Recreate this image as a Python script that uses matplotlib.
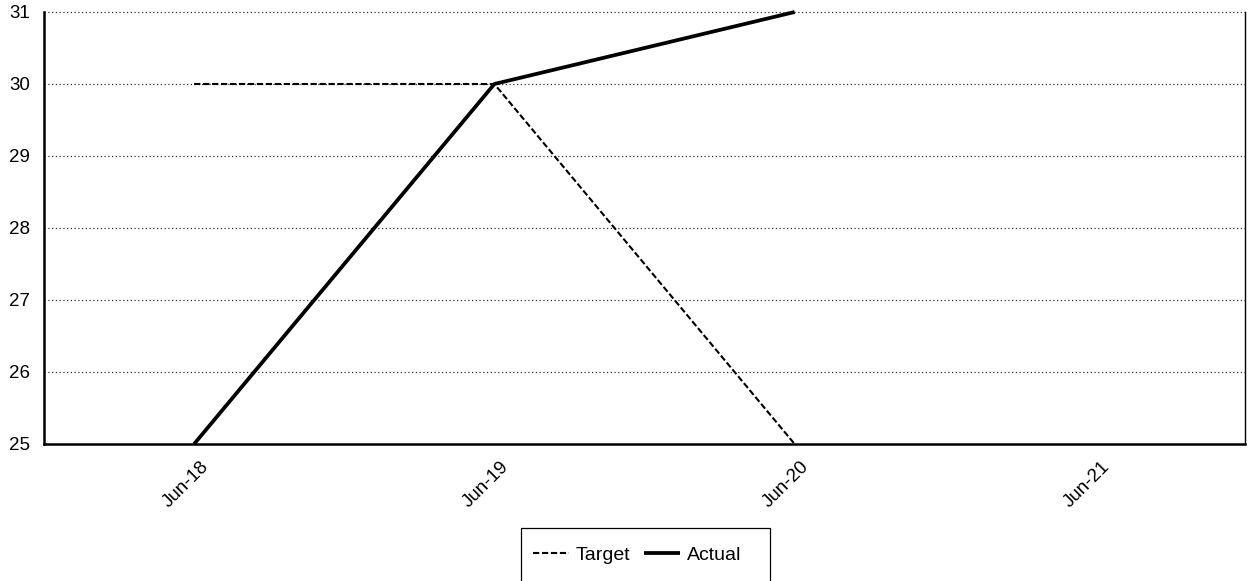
import matplotlib
matplotlib.use("Agg")
import matplotlib.pyplot as plt
from matplotlib.patches import Rectangle
from matplotlib.transforms import ScaledTranslation

plt.rcParams['font.family'] = ['Liberation Sans', 'DejaVu Sans']

categories = ["Jun-18", "Jun-19", "Jun-20", "Jun-21"]
target = [30, 30, 25]
actual = [25, 30, 31]
y_ticks = [25, 26, 27, 28, 29, 30, 31]

W, H = 1254, 581
fig = plt.figure(figsize=(W / 100, H / 100), dpi=100)
ax = fig.add_axes([44 / W, 1 - 444 / H, (1245 - 44) / W, (444 - 12) / H])

x = list(range(len(categories)))

ax.set_xlim(-0.5, len(categories) - 0.5)
ax.set_ylim(25, 31)
ax.set_yticks(y_ticks)
ax.set_xticks(x)
ax.set_xticklabels(categories, rotation=45, ha='right', va='top',
                   rotation_mode='anchor', fontsize=13.5)
ax.tick_params(axis='both', length=0, labelsize=13.5, colors='black')
ax.tick_params(axis='x', pad=10)
ax.tick_params(axis='y', pad=10)
shift = ScaledTranslation(6 / 100, 0, fig.dpi_scale_trans)
for lbl in ax.get_xticklabels():
    lbl.set_transform(lbl.get_transform() + shift)

# horizontal dotted gridlines
for v in y_ticks[1:]:
    ax.axhline(v, color='#333333', lw=0.9, ls=(0, (1, 2)), zorder=1, clip_on=False)

line_t, = ax.plot(x[:len(target)], target, color='black', lw=1.5,
                  ls=(0, (3.0, 1.3)), label='Target', zorder=3, clip_on=False)
line_a, = ax.plot(x[:len(actual)], actual, color='black', lw=2.7,
                  solid_capstyle='butt', label='Actual', zorder=4, clip_on=False)

ax.spines['top'].set_visible(False)
ax.spines['left'].set_linewidth(1.8)
ax.spines['bottom'].set_linewidth(1.8)
ax.spines['right'].set_linewidth(1.0)
for s in ax.spines.values():
    s.set_color('black')

leg = fig.legend(handles=[line_t, line_a], labels=['Target', 'Actual'],
                 loc='center left', bbox_to_anchor=(523 / W, 1 - 555 / H),
                 ncol=2, frameon=False, fontsize=14, borderpad=0,
                 handlelength=1.85, handletextpad=0.35, columnspacing=0.7)

fig.patches.append(Rectangle((521 / W, 1 - 583 / H), (770 - 521) / W, (583 - 528) / H,
                             transform=fig.transFigure, fill=False,
                             edgecolor='black', lw=0.9))

fig.savefig("out.png", dpi=100)
